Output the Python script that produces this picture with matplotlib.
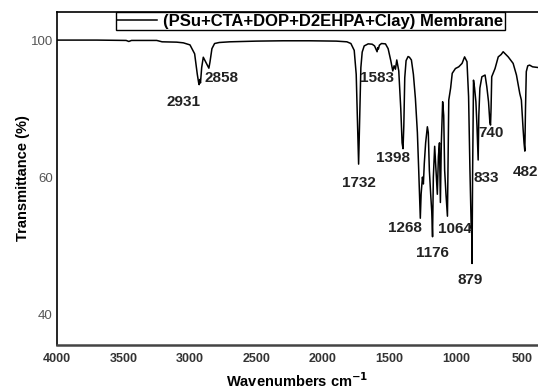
import numpy as np
import matplotlib
matplotlib.use("Agg")
import matplotlib.pyplot as plt

# ---- data ----
wavenumber = [4000, 3700, 3480, 3460, 3440, 3250, 3210, 3100, 3050, 3000, 2965, 2945, 2935, 2931,
              2926, 2921, 2912, 2900, 2880, 2866, 2858, 2850, 2835, 2815, 2780, 2700, 2500, 2300,
              2100, 1900, 1820, 1790, 1765, 1750, 1740, 1732, 1725, 1715, 1705, 1690, 1660, 1630,
              1612, 1600, 1593, 1588, 1583, 1576, 1560, 1530, 1510, 1490, 1475, 1465, 1455, 1445,
              1430, 1415, 1405, 1398, 1392, 1385, 1375, 1360, 1350, 1335, 1320, 1305, 1290, 1280,
              1272, 1268, 1262, 1252, 1245, 1238, 1228, 1215, 1208, 1200, 1190, 1182, 1176, 1170,
              1160, 1150, 1140, 1132, 1124, 1117, 1110, 1100, 1092, 1085, 1075, 1064, 1058, 1054,
              1040, 1028, 1004, 979, 954, 935, 917, 905, 895, 885, 882, 879, 875, 868, 860, 850,
              842, 833, 828, 820, 805, 781, 768, 755, 745, 740, 736, 731, 706, 682, 660, 645, 630,
              607, 570, 545, 520, 508, 495, 488, 482, 477, 471, 460, 446, 424, 383]
transmittance = [100.0, 100.0, 99.9, 99.6, 99.9, 99.9, 99.5, 99.4, 99.2, 98.6, 96.0, 90.0, 87.6, 87.0,
                 88.5, 87.5, 92.0, 95.0, 93.5, 92.4, 91.8, 93.5, 97.5, 99.0, 99.3, 99.5, 99.7, 99.8,
                 99.8, 99.7, 99.5, 99.0, 97.0, 90.0, 75.0, 63.8, 75.0, 92.0, 96.5, 98.3, 98.9, 98.8,
                 98.3, 97.2, 96.6, 97.8, 97.4, 98.5, 99.0, 98.9, 97.5, 94.0, 91.0, 92.5, 91.5, 94.2,
                 91.0, 80.0, 70.0, 68.3, 75.0, 89.0, 94.0, 95.2, 95.0, 94.2, 90.0, 83.0, 73.0, 62.0,
                 56.0, 54.0, 57.5, 60.0, 59.0, 64.0, 70.0, 74.7, 73.0, 62.0, 57.5, 55.0, 51.3, 60.0,
                 69.0, 62.0, 57.5, 66.0, 70.0, 56.3, 70.0, 82.0, 78.0, 62.0, 57.5, 54.3, 70.0, 82.5,
                 86.0, 90.3, 91.7, 92.2, 93.2, 95.1, 93.7, 83.5, 62.5, 52.5, 53.0, 47.4, 60.0, 88.3,
                 86.0, 82.0, 75.0, 65.0, 78.0, 86.0, 89.3, 89.8, 86.4, 82.0, 76.0, 75.2, 80.0, 89.3,
                 91.7, 95.1, 95.8, 96.6, 96.0, 95.1, 93.2, 89.8, 84.4, 82.5, 74.0, 70.0, 67.6, 80.0,
                 90.8, 92.5, 92.7, 92.2, 92.0]
peak_labels = [2931, 2858, 1732, 1583, 1398, 1268, 1176, 1064, 879, 833, 740, 482]
series_name = "(PSu+CTA+DOP+D2EHPA+Clay) Membrane"
x_ticks = [4000, 3500, 3000, 2500, 2000, 1500, 1000, 500]
y_ticks = [40, 60, 100]

# label offsets (pixels) relative to each peak (dx, dy)
label_offsets = {2931: (-16, -17), 2858: (13, -10), 1732: (0, -19), 1583: (-1, -29),
                 1398: (-10, -9), 1268: (-15, -10), 1176: (0, -16), 1064: (7, -13),
                 879: (-2, -17), 833: (8, -18), 740: (1, -8), 482: (1, -21)}

plt.rcParams['font.family'] = ['Liberation Sans', 'DejaVu Sans']


# the original axis is drawn with equal spacing for 100-60 and 60-40
def y_forward(v):
    v = np.asarray(v, dtype=float)
    return np.where(v >= 60, v, 60 - (60 - v) * 2.0)


def y_inverse(u):
    u = np.asarray(u, dtype=float)
    return np.where(u >= 60, u, 60 - (60 - u) / 2.0)


W, H = 538, 390
fig = plt.figure(figsize=(W / 100, H / 100), dpi=100)
ax = fig.add_axes([57 / W, 1 - 345 / H, 1.0 - 57 / W, (345 - 12) / H])

wn = np.array(wavenumber)
tr = np.array(transmittance)
line, = ax.plot(wn, tr, color='black', lw=1.1, label=series_name)

ax.set_yscale('function', functions=(y_forward, y_inverse))
ax.set_xlim(4000, 383)
ax.set_ylim(35.5, 108.2)
ax.set_xticks(x_ticks)
ax.set_yticks(y_ticks)
ax.set_yticklabels([str(t) for t in y_ticks])
ax.minorticks_off()
ax.tick_params(axis='both', length=0)
ax.tick_params(axis='x', pad=6, labelsize=9, labelcolor='#333333')
ax.tick_params(axis='y', pad=3, labelsize=9.5, labelcolor='#555555')
for lab in ax.get_xticklabels():
    lab.set_fontweight('bold')

for s in ['left', 'top']:
    ax.spines[s].set_color('black')
    ax.spines[s].set_linewidth(1.2)
ax.spines['bottom'].set_color('#444444')
ax.spines['bottom'].set_linewidth(1.8)
ax.spines['right'].set_visible(False)

ax.set_xlabel('Wavenumbers cm$^{\\mathbf{-1}}$', fontsize=10.5, fontweight='bold', labelpad=4)
ax.set_ylabel('Transmittance (%)', fontsize=10.5, fontweight='bold', labelpad=0.5)

rev_wn = wn[::-1]
rev_tr = tr[::-1]
for p in peak_labels:
    yv = np.interp(p, rev_wn, rev_tr)
    dx, dy = label_offsets[p]
    ax.annotate(str(p), xy=(p, yv), xytext=(dx, dy), textcoords='offset pixels',
                ha='center', va='center', fontsize=11, fontweight='bold', color='#222222',
                annotation_clip=False)

leg = fig.legend(handles=[line], loc='upper right', bbox_to_anchor=(505 / W, 1 - 12 / H),
                 frameon=True, fancybox=False, edgecolor='black', framealpha=1,
                 prop={'weight': 'bold', 'size': 12}, handlelength=2.4, handletextpad=0.35,
                 borderpad=0.1, borderaxespad=0)
leg.get_frame().set_linewidth(1.0)

fig.savefig('out.png', dpi=100)
